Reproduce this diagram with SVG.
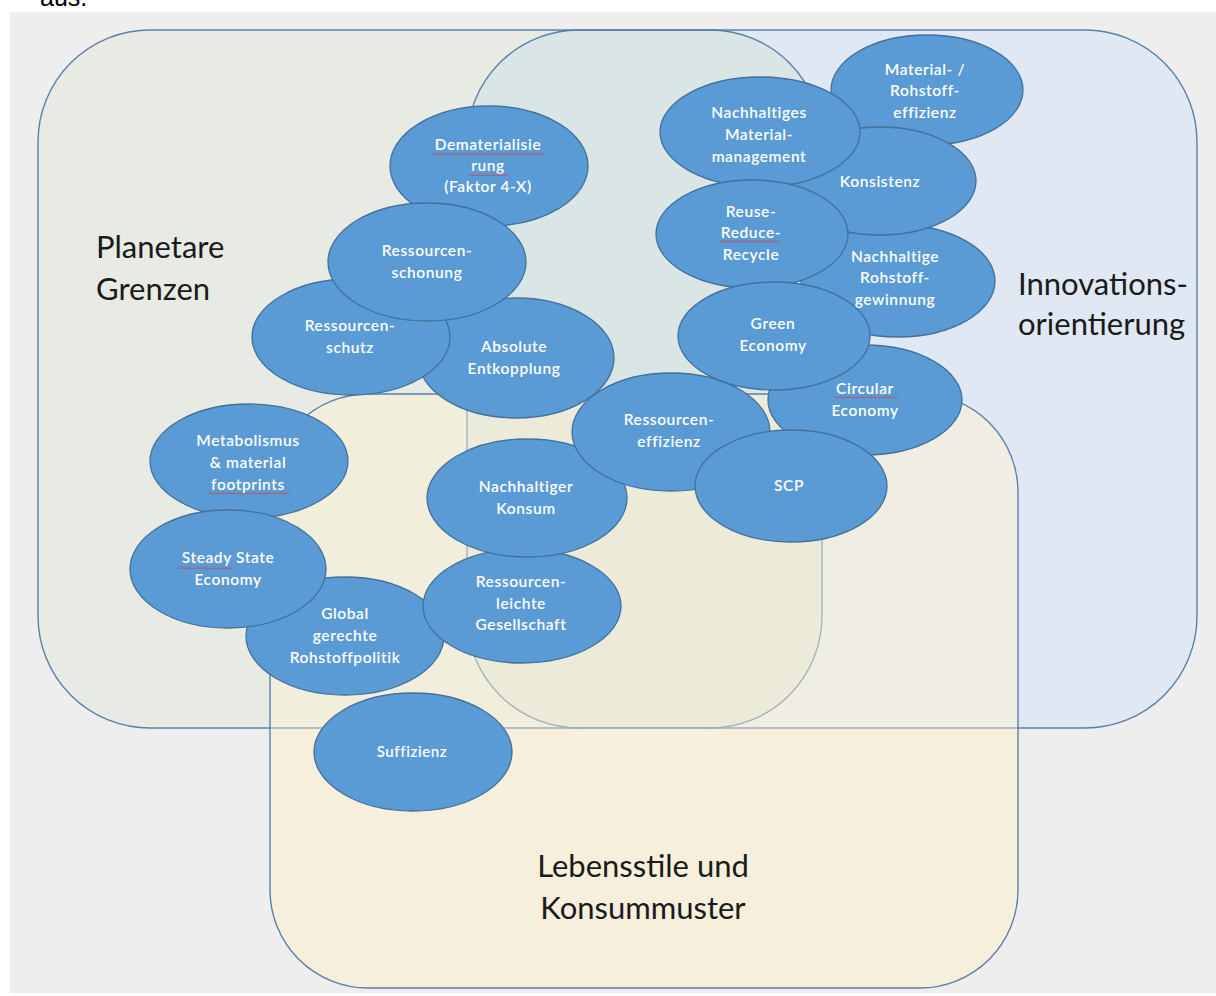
<svg xmlns="http://www.w3.org/2000/svg" width="1216" height="996" viewBox="0 0 1216 996">
<style>
.nd ellipse{fill:#5b9bd5;stroke:#41719c;stroke-width:1.3}
.nt{font-family:Lato,"Open Sans","Liberation Sans",sans-serif;font-size:15.5px;letter-spacing:0.6px;font-weight:600;fill:#ffffff;text-anchor:middle}
.big{font-family:Lato,"Open Sans","Liberation Sans",sans-serif;font-size:31px;fill:#1a1a1a}
.sq{fill:url(#squig)}
.dk{fill:none;stroke:#5a80aa;stroke-width:1.4}
.lt{fill:none;stroke:#9fb0bb;stroke-width:1.3}
</style>
<defs>
<rect id="rA" x="38" y="30" width="784" height="698" rx="112" ry="112"/>
<rect id="rB" x="467" y="30" width="730" height="698" rx="112" ry="112"/>
<rect id="rC" x="270" y="394" width="748" height="594" rx="98" ry="98"/>
<clipPath id="cA"><use href="#rA"/></clipPath>
<clipPath id="cB"><use href="#rB"/></clipPath>
<clipPath id="cC"><use href="#rC"/></clipPath>
<pattern id="squig" x="0" y="0" width="4" height="3" patternUnits="userSpaceOnUse">
<path d="M0 2.5 L2 0.5 L4 2.5" fill="none" stroke="#e03535" stroke-width="0.9"/>
</pattern>
</defs>
<rect x="0" y="0" width="1216" height="996" fill="#ffffff"/>
<text x="40" y="6" font-family="Liberation Sans,Arial,sans-serif" font-size="25" fill="#000">aus.</text>
<rect x="10" y="12" width="1206" height="981" fill="#eeeeee"/>

<g id="sets">
<use href="#rA" fill="#e7ebe4"/>
<use href="#rB" fill="#dfe8f3"/>
<g clip-path="url(#cA)"><use href="#rB" fill="#dae6e6"/></g>
<use href="#rA" class="dk"/>
<use href="#rB" class="dk"/>
<use href="#rC" fill="#f5efdc"/>
<g clip-path="url(#cC)">
<use href="#rA" fill="#f2eedc"/>
<use href="#rB" fill="#f0eee2"/>
<g clip-path="url(#cA)"><use href="#rB" fill="#ecebda"/></g>
<use href="#rA" class="lt"/>
<use href="#rB" class="lt"/>
</g>
<use href="#rC" class="dk"/>
<text class="big" x="96" y="258">Planetare</text>
<text class="big" x="96" y="300">Grenzen</text>
<text class="big" x="1018" y="295">Innovations-</text>
<text class="big" x="1018" y="335">orientierung</text>
<text class="big" x="643" y="877" text-anchor="middle">Lebensstile und</text>
<text class="big" x="643" y="919" text-anchor="middle">Konsummuster</text>
</g>

<g id="connectors"/>

<g id="n-materialrohstoff" class="nd"><ellipse cx="927" cy="90" rx="96" ry="55"/>
<text class="nt" x="925" y="75">Material- /</text><text class="nt" x="925" y="96">Rohstoff-</text><text class="nt" x="925" y="118">effizienz</text></g>
<g id="n-gewinnung" class="nd"><ellipse cx="898" cy="281" rx="97" ry="56"/>
<text class="nt" x="895" y="262">Nachhaltige</text><text class="nt" x="895" y="283">Rohstoff-</text><text class="nt" x="895" y="305">gewinnung</text></g>
<g id="n-konsistenz" class="nd"><ellipse cx="880" cy="181" rx="96" ry="54"/>
<text class="nt" x="880" y="187">Konsistenz</text></g>
<g id="n-materialmanagement" class="nd"><ellipse cx="760" cy="132" rx="100" ry="55"/>
<text class="nt" x="759" y="118">Nachhaltiges</text><text class="nt" x="759" y="140">Material-</text><text class="nt" x="759" y="162">management</text></g>
<g id="n-reuse" class="nd"><ellipse cx="752" cy="234" rx="96" ry="54"/>
<text class="nt" x="751" y="217">Reuse-</text><text class="nt" x="751" y="238">Reduce-</text><text class="nt" x="751" y="260">Recycle</text>
<rect class="sq" x="719" y="240" width="62" height="3"/></g>
<g id="n-circular" class="nd"><ellipse cx="865" cy="400" rx="97" ry="55"/>
<text class="nt" x="865" y="394">Circular</text><text class="nt" x="865" y="416">Economy</text>
<rect class="sq" x="834" y="396" width="64" height="3"/></g>
<g id="n-green" class="nd"><ellipse cx="774" cy="336" rx="96" ry="54"/>
<text class="nt" x="773" y="329">Green</text><text class="nt" x="773" y="351">Economy</text></g>
<g id="n-demat" class="nd"><ellipse cx="489" cy="166" rx="99" ry="60"/>
<text class="nt" x="488" y="150">Dematerialisie</text><text class="nt" x="488" y="171">rung</text><text class="nt" x="488" y="192">(Faktor 4-X)</text>
<rect class="sq" x="431" y="152" width="114" height="3"/><rect class="sq" x="469" y="173" width="39" height="3"/></g>
<g id="n-absolute" class="nd"><ellipse cx="516" cy="358" rx="98" ry="60"/>
<text class="nt" x="514" y="352">Absolute</text><text class="nt" x="514" y="374">Entkopplung</text></g>
<g id="n-schutz" class="nd"><ellipse cx="351" cy="337" rx="99" ry="58"/>
<text class="nt" x="350" y="331">Ressourcen-</text><text class="nt" x="350" y="353">schutz</text></g>
<g id="n-schonung" class="nd"><ellipse cx="427" cy="262" rx="99" ry="59"/>
<text class="nt" x="427" y="256">Ressourcen-</text><text class="nt" x="427" y="278">schonung</text></g>
<g id="n-metabolismus" class="nd"><ellipse cx="249" cy="461" rx="99" ry="57"/>
<text class="nt" x="248" y="446">Metabolismus</text><text class="nt" x="248" y="468">&amp; material</text><text class="nt" x="248" y="490">footprints</text>
<rect class="sq" x="208" y="492" width="82" height="3"/></g>
<g id="n-global" class="nd"><ellipse cx="345" cy="636" rx="99" ry="59"/>
<text class="nt" x="345" y="619">Global</text><text class="nt" x="345" y="641">gerechte</text><text class="nt" x="345" y="663">Rohstoffpolitik</text></g>
<g id="n-steady" class="nd"><ellipse cx="228" cy="569" rx="98" ry="59"/>
<text class="nt" x="228" y="563">Steady State</text><text class="nt" x="228" y="585">Economy</text>
<rect class="sq" x="178" y="566" width="54" height="3"/></g>
<g id="n-leichte" class="nd"><ellipse cx="522" cy="606" rx="99" ry="57"/>
<text class="nt" x="521" y="587">Ressourcen-</text><text class="nt" x="521" y="609">leichte</text><text class="nt" x="521" y="630">Gesellschaft</text></g>
<g id="n-konsum" class="nd"><ellipse cx="527" cy="498" rx="100" ry="59"/>
<text class="nt" x="526" y="492">Nachhaltiger</text><text class="nt" x="526" y="514">Konsum</text></g>
<g id="n-effizienz" class="nd"><ellipse cx="671" cy="432" rx="99" ry="59"/>
<text class="nt" x="669" y="425">Ressourcen-</text><text class="nt" x="669" y="447">effizienz</text></g>
<g id="n-scp" class="nd"><ellipse cx="791" cy="486" rx="96" ry="56"/>
<text class="nt" x="789" y="491">SCP</text></g>
<g id="n-suffizienz" class="nd"><ellipse cx="413" cy="752" rx="99" ry="59"/>
<text class="nt" x="412" y="757" style="font-size:15px">Suffizienz</text></g>
</svg>
